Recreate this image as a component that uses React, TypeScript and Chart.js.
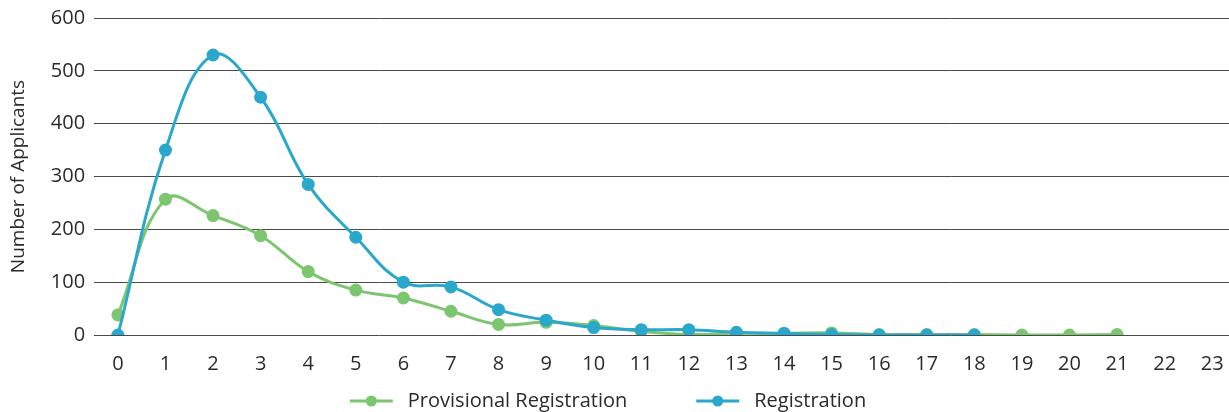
import React, { useEffect, useRef } from "react";
import { Chart, registerables } from "chart.js";

Chart.register(...registerables);

const categories = ["0", "1", "2", "3", "4", "5", "6", "7", "8", "9", "10", "11", "12", "13", "14", "15", "16", "17", "18", "19", "20", "21", "22", "23"];
const provisionalValues = [38, 257, 226, 188, 120, 85, 70, 45, 20, 24, 18, 7, 1, 3, 3, 4, 1, 1, 1, 0, 0, 1];
const registrationValues = [0, 350, 530, 450, 285, 185, 100, 91, 48, 28, 14, 10, 10, 5, 3, 1, 0, 0, 0];
const yTicks = [0, 100, 200, 300, 400, 500, 600];
const seriesNames = ["Provisional Registration", "Registration"];
const seriesColors = ["#7CC66F", "#2AA8CC"];

const TEXT = "#2b2b2b";
const FONT = "'Open Sans'";
const CANVAS_W = 1244;
const CANVAS_H = 412;

const legendPlugin = {
  id: "customLegend",
  afterDraw(chart: any) {
    const ctx = chart.ctx as CanvasRenderingContext2D;
    ctx.save();
    ctx.font = `20px ${FONT}`;
    ctx.textBaseline = "middle";
    const symW = 43;
    const symGap = 15;
    const itemGap = 69;
    const widths = seriesNames.map((t) => ctx.measureText(t).width);
    const total = widths.reduce((a, w) => a + symW + symGap + w, 0) + itemGap * (seriesNames.length - 1);
    let x = (chart.width - total) / 2 - 14;
    const y = 401;
    seriesNames.forEach((name, i) => {
      const color = seriesColors[i];
      ctx.strokeStyle = color;
      ctx.lineWidth = 3;
      ctx.beginPath();
      ctx.moveTo(x, y);
      ctx.lineTo(x + symW, y);
      ctx.stroke();
      ctx.fillStyle = color;
      ctx.beginPath();
      ctx.arc(x + symW / 2, y, 5.5, 0, Math.PI * 2);
      ctx.fill();
      ctx.fillStyle = TEXT;
      ctx.fillText(name, x + symW + symGap, y);
      x += symW + symGap + widths[i] + itemGap;
    });
    ctx.restore();
  },
};

export default function App() {
  const ref = useRef<HTMLCanvasElement>(null);

  useEffect(() => {
    document.body.style.margin = "0";
    document.body.style.overflow = "hidden";
    const canvas = ref.current!;

    const chart = new Chart(canvas, {
      type: "line",
      data: {
        labels: categories,
        datasets: [
          {
            label: seriesNames[0],
            data: provisionalValues,
            borderColor: seriesColors[0],
            backgroundColor: seriesColors[0],
            pointBackgroundColor: seriesColors[0],
            pointBorderColor: seriesColors[0],
            borderWidth: 3,
            pointRadius: 5,
            tension: 0.4,
            order: 2,
          },
          {
            label: seriesNames[1],
            data: registrationValues,
            borderColor: seriesColors[1],
            backgroundColor: seriesColors[1],
            pointBackgroundColor: seriesColors[1],
            pointBorderColor: seriesColors[1],
            borderWidth: 3,
            pointRadius: 5,
            tension: 0.4,
            order: 1,
          },
        ],
      },
      options: {
        animation: false,
        responsive: false,
        maintainAspectRatio: false,
        layout: { padding: { top: 0, left: 7, right: 0, bottom: 27 } },
        scales: {
          x: {
            type: "category",
            offset: true,
            grid: { display: false },
            border: { display: false },
            ticks: {
              color: TEXT,
              font: { family: FONT, size: 20 },
              padding: 9,
              maxRotation: 0,
              autoSkip: false,
            },
          },
          y: {
            min: 0,
            max: 600,
            afterBuildTicks: (axis: any) => {
              axis.ticks = yTicks.map((v) => ({ value: v }));
            },
            grid: { color: "#4a4a4a", lineWidth: 1, drawTicks: false },
            border: { display: false },
            ticks: {
              color: TEXT,
              font: { family: FONT, size: 20, lineHeight: 0.9 },
              padding: 9,
            },
            title: {
              display: true,
              text: "Number of Applicants",
              color: TEXT,
              font: { family: FONT, size: 19 },
              padding: { top: 0, bottom: 12 },
            },
          },
        },
        plugins: {
          tooltip: { enabled: false },
          legend: { display: false },
        },
      } as any,
      plugins: [legendPlugin],
    });
    return () => chart.destroy();
  }, []);

  return (
    <div style={{ position: "fixed", left: 0, top: 0, width: CANVAS_W, height: CANVAS_H }}>
      <canvas ref={ref} width={CANVAS_W} height={CANVAS_H} style={{ width: CANVAS_W, height: CANVAS_H }} />
    </div>
  );
}
